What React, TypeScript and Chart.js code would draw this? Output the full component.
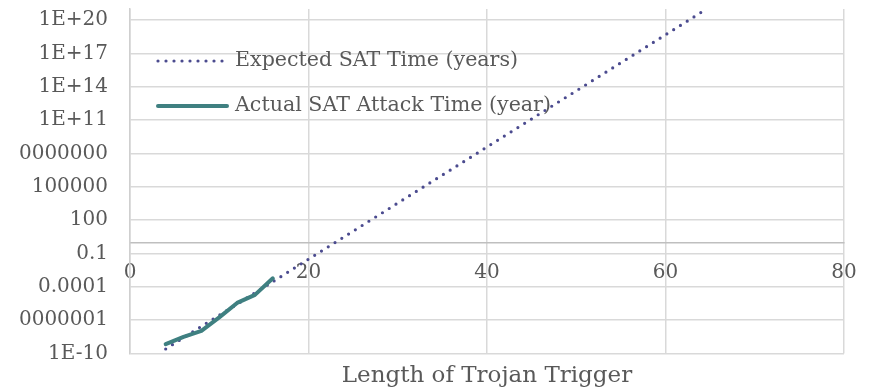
import React, { useEffect, useRef } from "react";
import { Chart, registerables } from "chart.js";

Chart.register(...registerables);

const expectedLabel = "Expected SAT Time (years)";
const actualLabel = "Actual SAT Attack Time (year)";
const xTitle = "Length of Trojan Trigger";

const expectedX = [4, 6, 8, 10, 12, 14, 16, 20, 24, 32, 40, 48, 56, 64];
const expectedY = [2.6e-10, 2.7e-9, 2.8e-8, 2.8e-7, 2.8e-6, 2.9e-5, 2.9e-4, 3.1e-2, 3.2, 3.5e4, 3.8e8, 4.2e12, 4.5e16, 4.9e20];

const actualX = [4, 6, 8, 10, 12, 14, 16];
const actualY = [7.0e-10, 3.2e-9, 1.1e-8, 1.8e-7, 3.6e-6, 1.9e-5, 5.9e-4];

const xTicks = [0, 20, 40, 60, 80];
const yTicks = [1e-10, 1e-7, 1e-4, 0.1, 100, 1e5, 1e8, 1e11, 1e14, 1e17, 1e20];
const yTickLabels = ["1E-10", "0.0000001", "0.0001", "0.1", "100", "100000", "100000000", "1E+11", "1E+14", "1E+17", "1E+20"];

const FONT = "'DejaVu Serif', serif";
const TEXT = "#595959";
const DOT_COLOR = "#4b4b8f";
const TEAL = "#3f8081";

const legendPlugin = {
  id: "insideLegend",
  afterDatasetsDraw(chart: any) {
    const ctx = chart.ctx;
    const left = chart.chartArea.left;
    const rows = [
      { ds: chart.data.datasets[0], y: 61 },
      { ds: chart.data.datasets[1], y: 106 },
    ];
    ctx.save();
    rows.forEach((r) => {
      ctx.beginPath();
      ctx.strokeStyle = r.ds.borderColor;
      ctx.lineWidth = r.ds.borderWidth;
      ctx.lineCap = "round";
      ctx.setLineDash(r.ds.borderDash || []);
      ctx.moveTo(left + 28, r.y);
      ctx.lineTo(left + 97, r.y);
      ctx.stroke();
      ctx.setLineDash([]);
      ctx.fillStyle = TEXT;
      ctx.font = `20.6px ${FONT}`;
      ctx.textAlign = "left";
      ctx.textBaseline = "middle";
      ctx.fillText(r.ds.label, left + 105, r.y);
    });
    ctx.restore();
  },
};

export default function App() {
  const ref = useRef<HTMLCanvasElement | null>(null);

  useEffect(() => {
    if (!ref.current) return;
    const chart = new Chart(ref.current, {
      type: "scatter",
      data: {
        datasets: [
          {
            label: expectedLabel,
            data: expectedX.map((x, i) => ({ x, y: expectedY[i] })),
            showLine: true,
            borderColor: DOT_COLOR,
            backgroundColor: DOT_COLOR,
            borderWidth: 3.2,
            borderDash: [0, 8],
            borderCapStyle: "round",
            pointRadius: 0,
            tension: 0,
            order: 1,
          },
          {
            label: actualLabel,
            data: actualX.map((x, i) => ({ x, y: actualY[i] })),
            showLine: true,
            borderColor: TEAL,
            backgroundColor: TEAL,
            borderWidth: 4,
            borderCapStyle: "round",
            borderJoinStyle: "round",
            pointRadius: 0,
            tension: 0,
            order: 0,
          },
        ],
      },
      options: {
        responsive: false,
        animation: false,
        layout: { padding: { left: 0, right: 26, top: 8.9, bottom: 0 } },
        plugins: {
          legend: { display: false },
          tooltip: { enabled: false },
          title: {
            display: true,
            text: xTitle,
            position: "bottom",
            fullSize: false,
            color: TEXT,
            font: { family: FONT, size: 23, weight: "normal", lineHeight: 1.2 },
            padding: { top: 8.8, bottom: 0 },
          },
        },
        scales: {
          x: {
            type: "linear",
            position: { y: 1 },
            min: 0,
            max: 80,
            afterBuildTicks: (s: any) => {
              s.ticks = xTicks.map((v) => ({ value: v }));
            },
            afterFit: (s: any) => {
              s.paddingLeft = 0;
              s.paddingRight = 0;
            },
            ticks: {
              color: TEXT,
              font: { family: FONT, size: 20 },
              padding: 18,
              maxRotation: 0,
              autoSkip: false,
            },
            grid: { color: "#d9d9d9", lineWidth: 1.5, drawTicks: false },
            border: { color: "#bfbfbf", width: 1.5 },
          },
          y: {
            type: "logarithmic",
            position: "left",
            min: 1e-10,
            max: 1e21,
            bounds: "data",
            afterBuildTicks: (s: any) => {
              s.ticks = yTicks.map((v) => ({ value: v }));
            },
            afterFit: (s: any) => {
              s.width = 111;
              s.paddingTop = 0;
              s.paddingBottom = 0;
            },
            ticks: {
              color: TEXT,
              font: { family: FONT, size: 20 },
              padding: 22,
              autoSkip: false,
              callback: (_v: any, i: number) => yTickLabels[i],
            },
            grid: { color: "#d9d9d9", lineWidth: 1.5, drawTicks: false },
            border: { color: "#cfcfcf", width: 1.5 },
          },
        },
      },
      plugins: [legendPlugin],
    } as any);
    return () => chart.destroy();
  }, []);

  return (
    <div style={{ position: "absolute", left: 19, top: 0, width: 851, height: 390, background: "#fff" }}>
      <canvas ref={ref} width={851} height={390} style={{ display: "block" }} />
    </div>
  );
}
